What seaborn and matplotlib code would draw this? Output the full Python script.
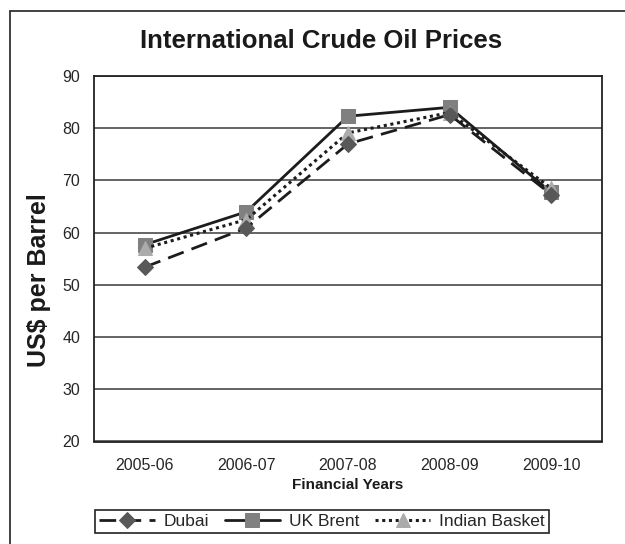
import matplotlib
matplotlib.use("Agg")
import matplotlib.pyplot as plt
from matplotlib.lines import Line2D
import seaborn as sns
import pandas as pd

# Financial years and prices (US$ per barrel)
years = ["2005-06", "2006-07", "2007-08", "2008-09", "2009-10"]
dubai = [53.4, 60.9, 77.0, 82.6, 67.3]
uk_brent = [57.7, 64.0, 82.3, 84.0, 67.7]
indian_basket = [57.0, 62.5, 79.1, 83.0, 68.5]
y_ticks = [20, 30, 40, 50, 60, 70, 80, 90]

sns.set_style("white")
plt.rcParams["font.family"] = ["Liberation Sans", "DejaVu Sans"]

W, H = 625, 544
fig = plt.figure(figsize=(W / 100, H / 100), dpi=100)
ax = fig.add_axes([94 / W, 1 - 441.5 / H, (602 - 94) / W, (441.5 - 76) / H])

df = pd.DataFrame({"Year": years, "Dubai": dubai, "UK Brent": uk_brent,
                   "Indian Basket": indian_basket})

line_col = "#1c1c1c"
# drawn Brent first so the other markers sit on top, as in the original
sns.lineplot(data=df, x="Year", y="UK Brent", ax=ax, color=line_col, lw=2,
             marker="s", markersize=10.5, markerfacecolor="#808080",
             markeredgecolor="#808080", label="UK Brent", sort=False)
sns.lineplot(data=df, x="Year", y="Indian Basket", ax=ax, color=line_col, lw=2.2,
             linestyle=(0, (1, 1.2)), marker="^", markersize=10,
             markerfacecolor="#ababab", markeredgecolor="#ababab",
             label="Indian Basket", sort=False)
sns.lineplot(data=df, x="Year", y="Dubai", ax=ax, color=line_col, lw=2,
             linestyle=(0, (6, 3)), marker="D", markersize=8.5,
             markerfacecolor="#585858", markeredgecolor="#585858",
             label="Dubai", sort=False)

ax.set_xlim(-0.5, len(years) - 0.5)
ax.set_ylim(20, 90)
ax.set_yticks(y_ticks)
ax.set_xticks(range(len(years)))
ax.set_xticklabels(years)
ax.set_xticks([i - 0.5 for i in range(len(years) + 1)], minor=True)
ax.tick_params(axis="x", which="major", length=0, pad=12, labelsize=11.5)
ax.tick_params(axis="x", which="minor", length=6, width=1.2, direction="out",
               color="#222222")
ax.tick_params(axis="y", length=6, width=1.2, direction="out", pad=4,
               labelsize=11.5, color="#222222")
ax.grid(axis="y", color="#3a3a3a", lw=1.1)
ax.set_axisbelow(True)
for s in ax.spines.values():
    s.set_color("#222222")
    s.set_linewidth(1.3)
ax.set_xlabel("")
ax.set_ylabel("")
leg = ax.get_legend()
if leg is not None:
    leg.remove()

fig.text(321 / W, 1 - 41 / H, "International Crude Oil Prices", ha="center",
         va="center", fontsize=18.5, fontweight="bold", color="#1a1a1a")
fig.text(39 / W, 1 - 280 / H, "US$ per Barrel", rotation=90, ha="center",
         va="center", fontsize=18, fontweight="bold", color="#1a1a1a")
fig.text(348 / W, 1 - 485 / H, "Financial Years", ha="center", va="center",
         fontsize=11, fontweight="bold", color="#1a1a1a")

handles, labels = ax.get_legend_handles_labels()
order = [labels.index(n) for n in ["Dubai", "UK Brent", "Indian Basket"]]
fig.legend([handles[i] for i in order], [labels[i] for i in order],
           loc="center", bbox_to_anchor=(322 / W, 1 - 521.5 / H), ncol=3,
           fontsize=12.5, frameon=True, fancybox=False, framealpha=1,
           edgecolor="#222222", handlelength=3.2, handletextpad=0.5,
           columnspacing=0.9, borderpad=0.25)
fig.legends[0].get_frame().set_linewidth(1.2)

# outer frame: only left and top edges are visible in the original
fig.add_artist(Line2D([10 / W, 10 / W], [0, 1 - 11 / H], color="#333333", lw=1.3,
                      transform=fig.transFigure))
fig.add_artist(Line2D([10 / W, 1], [1 - 11 / H, 1 - 11 / H], color="#333333", lw=1.3,
                      transform=fig.transFigure))

fig.savefig("out.png", dpi=100)
